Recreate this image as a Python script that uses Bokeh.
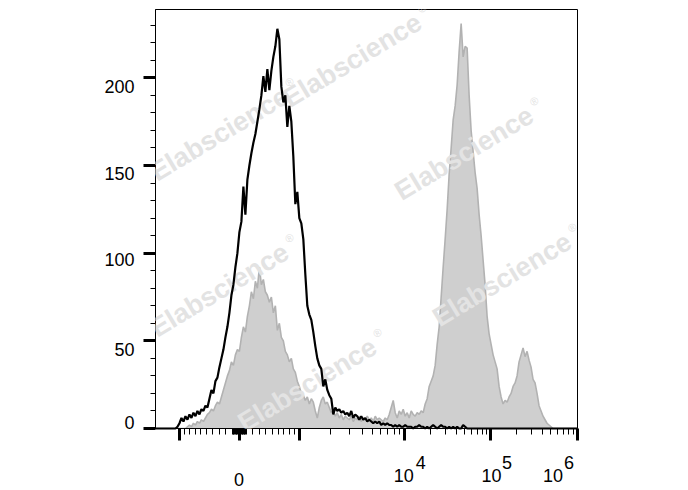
import numpy as np
from bokeh.plotting import figure
from bokeh.models import (FixedTicker, Range1d, Label, ColumnDataSource, LinearAxis,
                          CustomJSTickFormatter)
from bokeh.embed import file_html
from bokeh.resources import INLINE

# ---------------- data (histogram counts on a uniform grid of display channels) -------------
BIN_START = -84          # display channel of first bin
BIN_STEP = 2             # display channels per bin
N_BINS = 212

# unstained / control (black line), counts starting at bin index 11
control_start = 11
control_counts = [1, 3, 6, 4, 7, 5, 8, 6, 9, 7, 10, 8, 11, 10, 13, 12, 17, 22, 20, 27,
                  29, 35, 40, 45, 52, 58, 66, 76, 82, 92, 100, 112, 118, 138, 122, 142, 150, 157, 163, 168,
                  175, 182, 190, 201, 192, 205, 193, 204, 212, 218, 228, 222, 195, 186, 190, 172, 184, 175, 155, 128,
                  135, 120, 117, 108, 88, 70, 65, 62, 55, 47, 40, 36, 34, 24, 28, 22, 19, 17, 8, 12,
                  10, 11, 9, 10, 8, 9, 7, 10, 6, 8, 7, 5, 7, 5, 6, 4, 5, 4, 3, 4,
                  3, 4, 2, 3, 2, 3, 2, 2, 1, 2, 1, 2, 1, 1, 2, 1, 1, 1, 0, 1,
                  1, 2, 1, 1, 0, 1, 0, 1, 2, 1, 0, 1, 2, 1, 1, 0, 1, 0, 1, 0,
                  1, 0, 0, 2, 1]

# stained sample (grey filled), counts starting at bin index 16
stained_start = 16
stained_counts = [1, 2, 1, 3, 2, 4, 3, 5, 4, 6, 8, 9, 11, 10, 13, 15, 14, 18, 22, 26,
                  30, 33, 38, 36, 42, 45, 44, 52, 58, 55, 64, 70, 78, 74, 84, 80, 92, 82, 85, 78,
                  76, 72, 75, 66, 70, 56, 60, 52, 50, 44, 42, 38, 40, 34, 32, 27, 24, 20, 19, 16,
                  18, 14, 17, 15, 10, 6, 12, 16, 18, 14, 15, 12, 9, 10, 7, 9, 6, 8, 5, 7,
                  6, 5, 7, 4, 6, 5, 7, 4, 6, 5, 7, 5, 6, 4, 7, 5, 6, 5, 4, 6,
                  5, 8, 12, 16, 9, 6, 10, 8, 11, 7, 9, 6, 10, 8, 7, 9, 8, 10, 9, 14,
                  17, 24, 27, 30, 36, 48, 58, 75, 92, 108, 125, 145, 160, 176, 184, 196, 215, 231, 212, 218,
                  217, 190, 170, 158, 146, 137, 122, 110, 96, 82, 64, 54, 48, 42, 38, 34, 24, 18, 14, 16,
                  15, 18, 20, 24, 26, 30, 38, 42, 46, 41, 44, 39, 35, 28, 26, 20, 13, 10, 7, 5,
                  3, 2, 1]

# axis ticks (fluorescence values)
x_major_values = [-1e3, 0, 1e3, 1e4, 1e5, 1e6]
x_minor_values = ([-v for v in range(10, 100, 10)] + list(range(10, 100, 10)) +
                  [-v for v in range(100, 1000, 100)] + list(range(100, 1000, 100)) +
                  list(range(2000, 10000, 1000)) + list(range(20000, 100000, 10000)) +
                  list(range(200000, 1000000, 100000)))
x_zero_label = "0"
x_pow_values = [1e4, 1e5, 1e6]
x_pow_base = ["10", "10", "10"]
x_pow_exp = ["4", "5", "6"]
x_base_shift = [-0.5, 1.0, -24.0]      # px, hand placement as in the original
x_exp_shift = [16.5, 16.5, -8.0]       # px

y_major = [0, 50, 100, 150, 200]
y_minor = list(range(0, 240, 10))
y_labels = ["0", "50", "100", "150", "200"]
y_label_shift = [6.5, -8.7, -6.5, -7.7, -8.5]   # px (up positive), as placed in the original

Y_MAX = 239
X_MIN, X_MAX = -84, 338.5

watermark_x = [113, -20, 225, 263, -20, 68]
watermark_y = [210, 168, 157, 85, 79, 25]


def biex(v):
    v = np.asarray(v, dtype=float)
    a = np.abs(v)
    s = np.sign(v)
    lin = 60 * np.arcsinh(a / 1e3) / np.arcsinh(1.0)
    mid = 60 + 105 * np.log10(np.maximum(a, 1.0) / 1e3)
    high = 165 + 86.5 * np.log10(np.maximum(a, 1.0) / 1e4)
    out = np.where(a <= 1e3, lin, np.where(a <= 1e4, mid, high))
    return s * out


def pad(start, counts):
    arr = np.zeros(N_BINS)
    arr[start:start + len(counts)] = counts
    return arr


x = BIN_START + BIN_STEP * np.arange(N_BINS)
control = pad(control_start, control_counts)
stained = pad(stained_start, stained_counts)

FONT = "Liberation Sans"
W, H = 680, 490
FRAME_L, FRAME_R, FRAME_T, FRAME_B = 155, 577, 9, 428
PX_PER_Y = (FRAME_B - FRAME_T) / Y_MAX
PX_PER_X = (FRAME_R - FRAME_L) / (X_MAX - X_MIN)

p = figure(width=W, height=H, output_backend="svg", toolbar_location=None,
           x_range=Range1d(X_MIN, X_MAX), y_range=Range1d(0, Y_MAX),
           min_border_left=FRAME_L, min_border_right=W - FRAME_R,
           min_border_top=FRAME_T, min_border_bottom=H - FRAME_B)
p.background_fill_color = "white"
p.border_fill_color = "white"
p.outline_line_color = "black"
p.outline_line_width = 1
p.grid.visible = False

src = ColumnDataSource(dict(x=x, control=control, stained=stained, zero=np.zeros(N_BINS)))
p.varea(x="x", y1="zero", y2="stained", source=src, fill_color="#cfcfcf")
p.line(x="x", y="stained", source=src, line_color="#b2b2b2", line_width=1.6)

# watermark
for wx, wy in zip(watermark_x, watermark_y):
    p.add_layout(Label(x=wx, y=wy, text="Elabscience", angle=31, angle_units="deg",
                       text_font=FONT, text_font_style="bold", text_font_size="27px",
                       text_color="#e3e3e3", text_align="center", text_baseline="middle"))
    p.add_layout(Label(x=wx, y=wy, x_offset=70, y_offset=52, text="®", angle=31, angle_units="deg",
                       text_font=FONT, text_font_size="11px",
                       text_color="#e3e3e3", text_align="center", text_baseline="middle"))

black = p.line(x="x", y="control", source=src, line_color="black", line_width=2.2)
black.level = "overlay"

# tick axes (ticks only)
p.xaxis.ticker = FixedTicker(ticks=list(biex(x_major_values)), minor_ticks=list(biex(x_minor_values)))
p.yaxis.ticker = FixedTicker(ticks=y_major, minor_ticks=y_minor)
for ax in (p.xaxis, p.yaxis):
    ax.axis_line_color = "black"
    ax.axis_line_width = 1
    ax.major_tick_in = 0
    ax.major_tick_out = 12
    ax.minor_tick_in = 0
    ax.major_tick_line_width = 3
    ax.minor_tick_line_width = 1
    ax.major_tick_line_color = "black"
    ax.minor_tick_line_color = "black"
    ax.major_label_text_color = None
    ax.major_label_text_font_size = "0px"
    ax.major_label_standoff = 0
p.xaxis.minor_tick_out = 6
p.yaxis.minor_tick_out = 5


def label_axis(positions, labels, standoff, side):
    order = np.argsort(positions)
    pos = [float(positions[i]) for i in order]
    lab = [labels[i] for i in order]
    ax = LinearAxis(ticker=FixedTicker(ticks=pos, minor_ticks=[]),
                    formatter=CustomJSTickFormatter(args=dict(L=lab), code="return L[index];"))
    ax.axis_line_color = None
    ax.major_tick_line_color = None
    ax.minor_tick_line_color = None
    ax.major_tick_in = 0
    ax.major_tick_out = 0
    ax.minor_tick_in = 0
    ax.minor_tick_out = 0
    ax.major_label_standoff = standoff
    ax.major_label_text_font = FONT
    ax.major_label_text_font_size = "18px"
    ax.major_label_text_color = "black"
    p.add_layout(ax, side)
    return ax


# y labels, placed as in the original
y_pos = [v + s / PX_PER_Y for v, s in zip(y_major, y_label_shift)]
label_axis(y_pos, y_labels, 9, "left")

# x labels: exponents, bases, and the zero
exp_pos = [float(biex(v)) + s / PX_PER_X for v, s in zip(x_pow_values, x_exp_shift)]
base_pos = [float(biex(v)) + s / PX_PER_X for v, s in zip(x_pow_values, x_base_shift)]
zero_pos = [float(biex(0)) - 0.5 / PX_PER_X]
label_axis(exp_pos, x_pow_exp, 15, "below")
label_axis(base_pos, x_pow_base, -3, "below")
label_axis(zero_pos, [x_zero_label], -12, "below")

open("out.html", "w").write(file_html(p, INLINE))
